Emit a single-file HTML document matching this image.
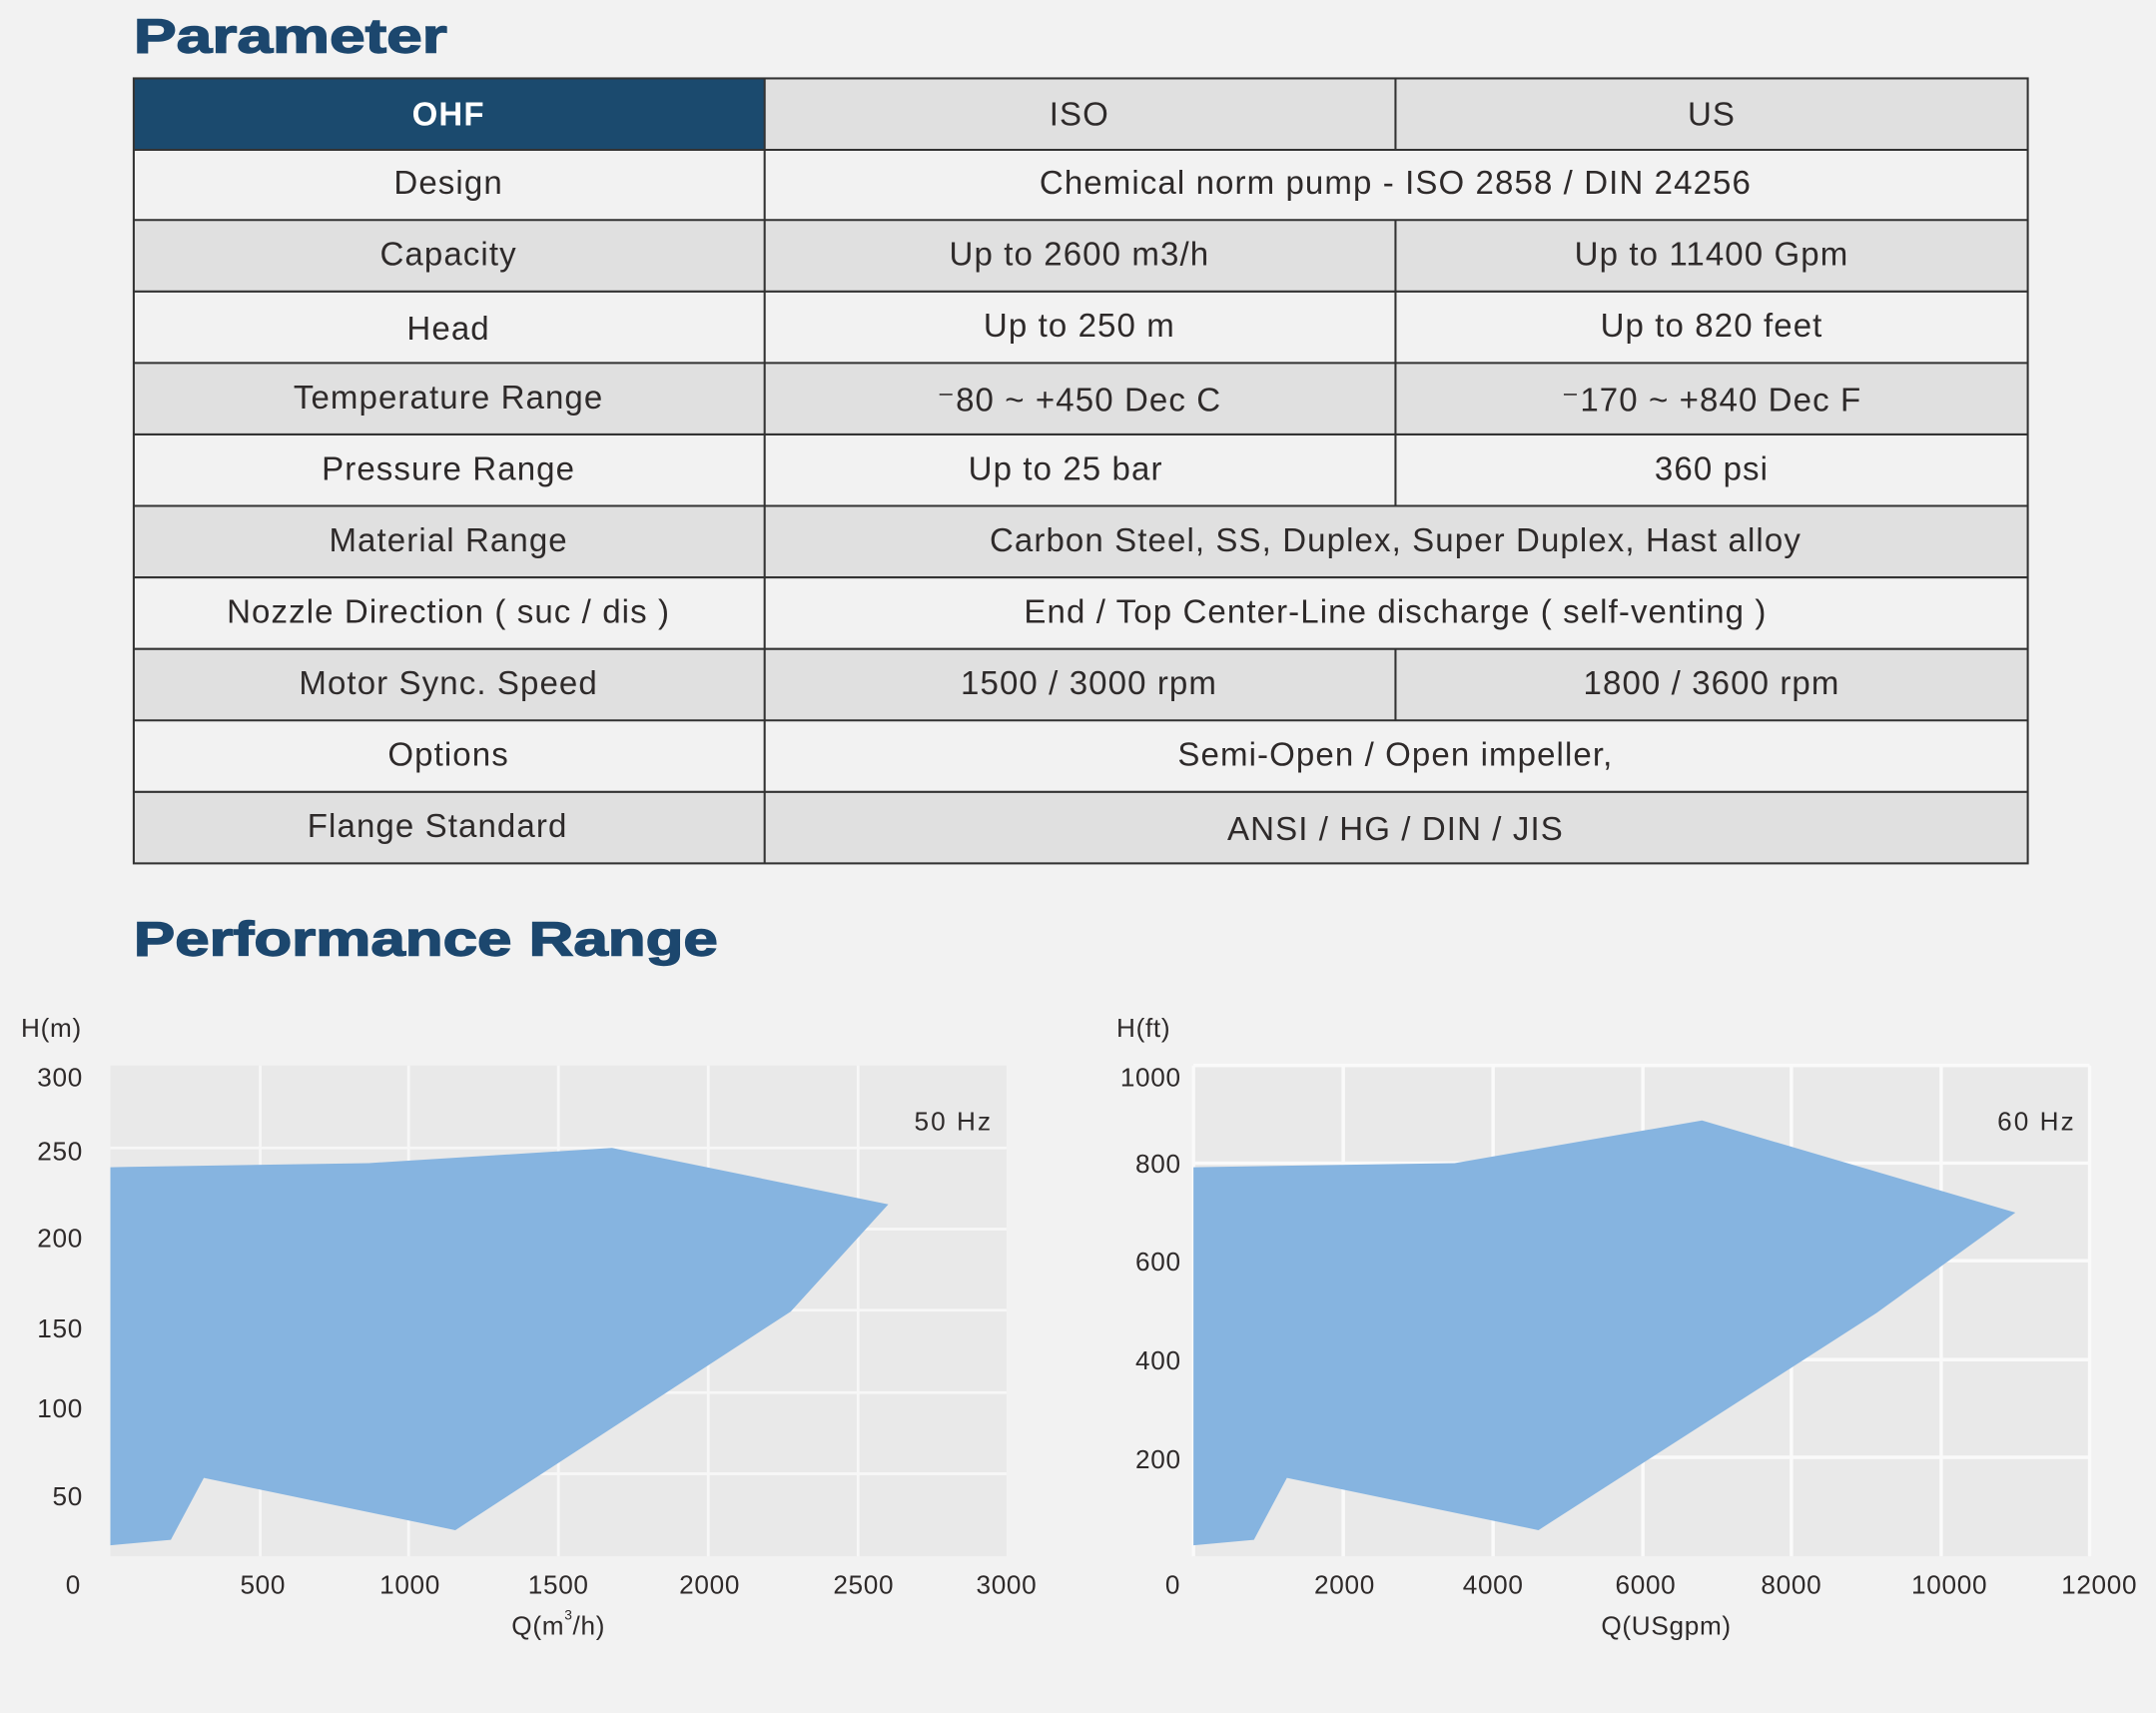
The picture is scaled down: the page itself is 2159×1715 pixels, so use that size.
<!DOCTYPE html>
<html><head><meta charset="utf-8"><style>
html,body{margin:0;padding:0;background:#f2f2f2;}
svg{display:block;}
text{font-family:"Liberation Sans",Arial,sans-serif;}
</style></head><body>
<svg width="2159" height="1715" viewBox="0 0 1568 1246" xmlns="http://www.w3.org/2000/svg">
<rect width="1568" height="1246" fill="#f2f2f2"/>
<text x="97" y="38" font-size="35" font-weight="bold" fill="#1c476e" stroke="#1c476e" stroke-width="1" textLength="228" lengthAdjust="spacingAndGlyphs">Parameter</text>
<g>
<rect x="97" y="57" width="1378" height="52" fill="#e0e0e0"/>
<rect x="97" y="57" width="459" height="52" fill="#1b4a6e"/>
<rect x="97" y="160" width="1378" height="52" fill="#e0e0e0"/>
<rect x="97" y="264" width="1378" height="52" fill="#e0e0e0"/>
<rect x="97" y="368" width="1378" height="52" fill="#e0e0e0"/>
<rect x="97" y="472" width="1378" height="52" fill="#e0e0e0"/>
<rect x="97" y="576" width="1378" height="52" fill="#e0e0e0"/>
</g>
<g stroke="#333" stroke-width="1.5" fill="none">
<rect x="97" y="57" width="1378" height="571"/>
<line x1="97" y1="109" x2="1475" y2="109"/>
<line x1="97" y1="160" x2="1475" y2="160"/>
<line x1="97" y1="212" x2="1475" y2="212"/>
<line x1="97" y1="264" x2="1475" y2="264"/>
<line x1="97" y1="316" x2="1475" y2="316"/>
<line x1="97" y1="368" x2="1475" y2="368"/>
<line x1="97" y1="420" x2="1475" y2="420"/>
<line x1="97" y1="472" x2="1475" y2="472"/>
<line x1="97" y1="524" x2="1475" y2="524"/>
<line x1="97" y1="576" x2="1475" y2="576"/>
<line x1="556" y1="57" x2="556" y2="628"/>
<line x1="1015" y1="57" x2="1015" y2="109"/>
<line x1="1015" y1="160" x2="1015" y2="368"/>
<line x1="1015" y1="472" x2="1015" y2="524"/>
</g>
<g font-size="24" fill="#2e2a2a" text-anchor="middle" letter-spacing="0.8">
<text x="326" y="91" fill="#fff" font-weight="bold">OHF</text>
<text x="785" y="91">ISO</text>
<text x="1245" y="91">US</text>
<text x="326" y="141">Design</text>
<text x="1015" y="141">Chemical norm pump - ISO 2858 / DIN 24256</text>
<text x="326" y="193">Capacity</text>
<text x="785" y="193">Up to 2600 m3/h</text>
<text x="1245" y="193">Up to 11400 Gpm</text>
<text x="326" y="247">Head</text>
<text x="785" y="245">Up to 250 m</text>
<text x="1245" y="245">Up to 820 feet</text>
<text x="326" y="297">Temperature Range</text>
<text x="785" y="299">⁻80 ~ +450 Dec C</text>
<text x="1245" y="299">⁻170 ~ +840 Dec F</text>
<text x="326" y="349">Pressure Range</text>
<text x="775" y="349">Up to 25 bar</text>
<text x="1245" y="349">360 psi</text>
<text x="326" y="401">Material Range</text>
<text x="1015" y="401">Carbon Steel, SS, Duplex, Super Duplex, Hast alloy</text>
<text x="326" y="453">Nozzle Direction ( suc / dis )</text>
<text x="1015" y="453">End / Top Center-Line discharge ( self-venting )</text>
<text x="326" y="505">Motor Sync. Speed</text>
<text x="792" y="505">1500 / 3000 rpm</text>
<text x="1245" y="505">1800 / 3600 rpm</text>
<text x="326" y="557">Options</text>
<text x="1015" y="557">Semi-Open / Open impeller,</text>
<text x="318" y="609">Flange Standard</text>
<text x="1015" y="611">ANSI / HG / DIN / JIS</text>
</g>
<text x="97" y="695" font-size="35" font-weight="bold" fill="#1c476e" stroke="#1c476e" stroke-width="1" textLength="425" lengthAdjust="spacingAndGlyphs">Performance Range</text>

<!-- chart 1 -->
<rect x="80" y="775" width="652" height="357" fill="#e9e9e9"/>
<g stroke="#f7f7f7" stroke-width="2">
<line x1="80" y1="835" x2="732" y2="835"/><line x1="80" y1="894" x2="732" y2="894"/>
<line x1="80" y1="953" x2="732" y2="953"/><line x1="80" y1="1013" x2="732" y2="1013"/>
<line x1="80" y1="1072" x2="732" y2="1072"/>
<line x1="189" y1="775" x2="189" y2="1132"/><line x1="297" y1="775" x2="297" y2="1132"/>
<line x1="406" y1="775" x2="406" y2="1132"/><line x1="515" y1="775" x2="515" y2="1132"/>
<line x1="624" y1="775" x2="624" y2="1132"/>
</g>
<polygon points="80,849 268,846 445,835 646,876 575,954 331,1113 148,1075 124,1120 80,1124" fill="#86b4e0"/>
<g font-size="19" fill="#2e2a2a" letter-spacing="0.5">
<text x="15" y="754">H(m)</text>
<g text-anchor="end"><text x="60" y="790">300</text><text x="60" y="844">250</text><text x="60" y="907">200</text><text x="60" y="973">150</text><text x="60" y="1031">100</text><text x="60" y="1095">50</text></g>
<text x="722" y="822" text-anchor="end" letter-spacing="1.5">50 Hz</text>
<g text-anchor="middle"><text x="53" y="1159">0</text><text x="191" y="1159">500</text><text x="298" y="1159">1000</text><text x="406" y="1159">1500</text><text x="516" y="1159">2000</text><text x="628" y="1159">2500</text><text x="732" y="1159">3000</text></g>
<text x="406" y="1189" text-anchor="middle">Q(m<tspan font-size="10" dy="-11">3</tspan><tspan dy="11">/h)</tspan></text>
</g>

<!-- chart 2 -->
<rect x="868" y="775" width="652" height="357" fill="#e9e9e9"/>
<g stroke="#fafafa" stroke-width="2.5">
<line x1="868" y1="775" x2="1520" y2="775"/>
<line x1="868" y1="846" x2="1520" y2="846"/><line x1="868" y1="917" x2="1520" y2="917"/>
<line x1="868" y1="989" x2="1520" y2="989"/><line x1="868" y1="1060" x2="1520" y2="1060"/>
<line x1="868" y1="775" x2="868" y2="1132"/>
<line x1="977" y1="775" x2="977" y2="1132"/><line x1="1086" y1="775" x2="1086" y2="1132"/>
<line x1="1195" y1="775" x2="1195" y2="1132"/><line x1="1303" y1="775" x2="1303" y2="1132"/>
<line x1="1412" y1="775" x2="1412" y2="1132"/><line x1="1520" y1="775" x2="1520" y2="1132"/>
</g>
<polygon points="868,849 1058,846 1238,815 1466,882 1365,955 1119,1113 936,1075 912,1120 868,1124" fill="#86b4e0"/>
<g font-size="19" fill="#2e2a2a" letter-spacing="0.5">
<text x="812" y="754">H(ft)</text>
<g text-anchor="end"><text x="859" y="790">1000</text><text x="859" y="853">800</text><text x="859" y="924">600</text><text x="859" y="996">400</text><text x="859" y="1068">200</text></g>
<text x="1510" y="822" text-anchor="end" letter-spacing="1.5">60 Hz</text>
<g text-anchor="middle"><text x="853" y="1159">0</text><text x="978" y="1159">2000</text><text x="1086" y="1159">4000</text><text x="1197" y="1159">6000</text><text x="1303" y="1159">8000</text><text x="1418" y="1159">10000</text><text x="1527" y="1159">12000</text></g>
<text x="1212" y="1189" text-anchor="middle">Q(USgpm)</text>
</g>
</svg>
</body></html>
